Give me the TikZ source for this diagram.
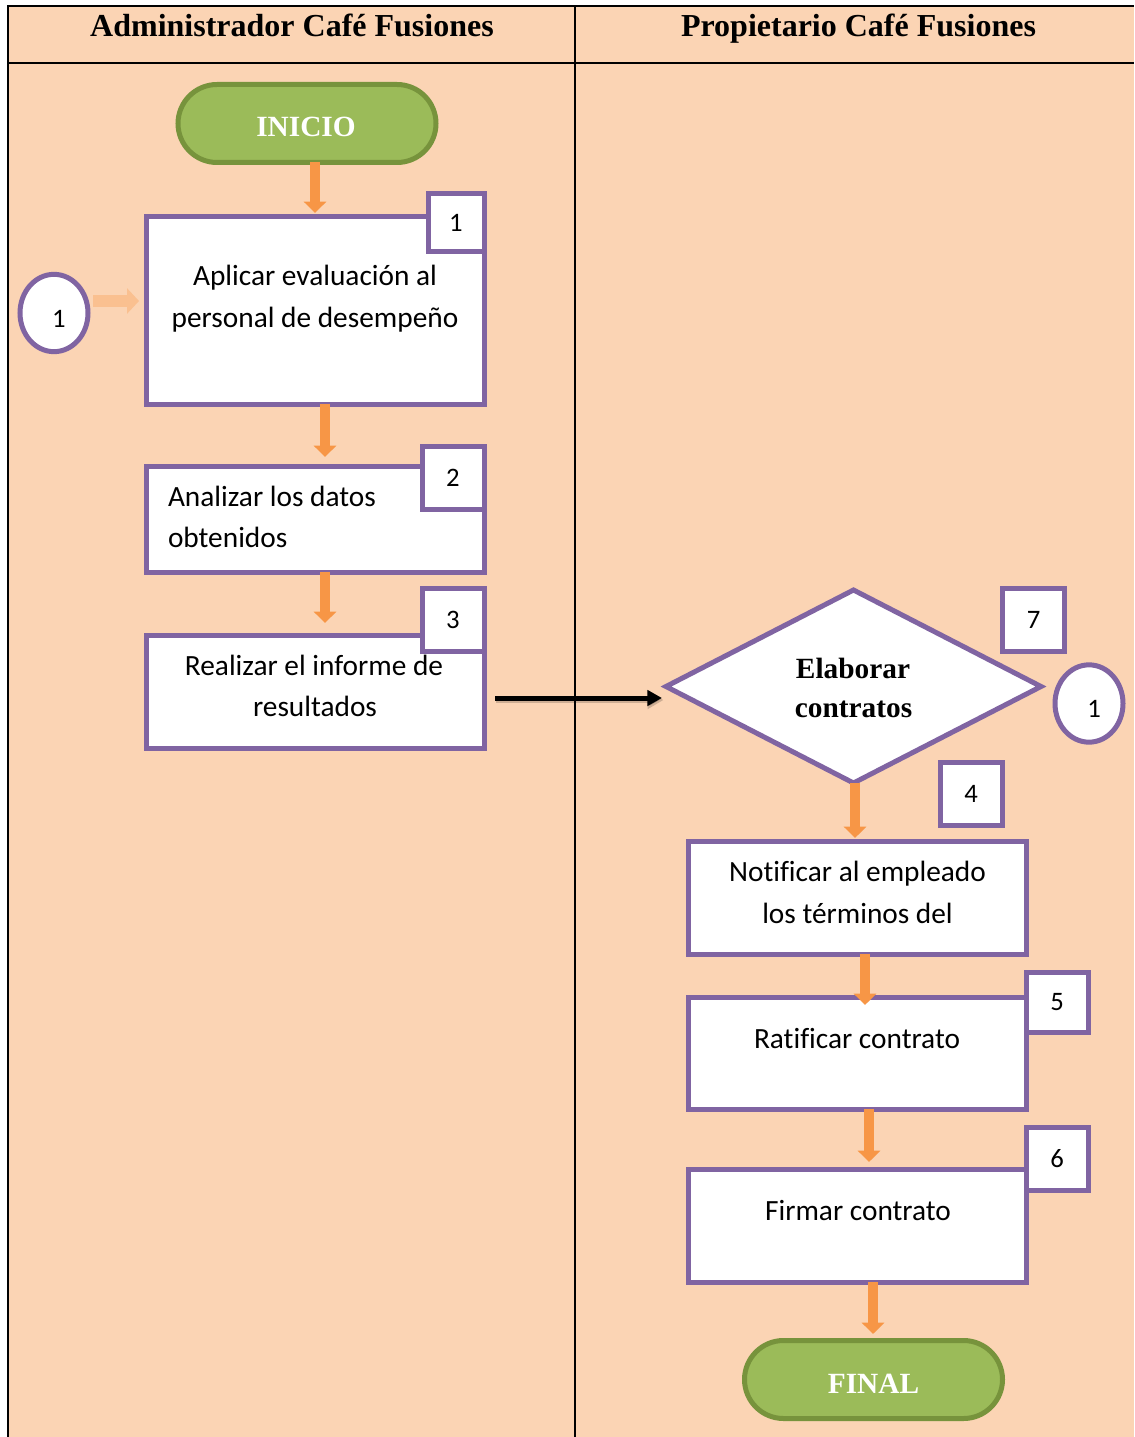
\documentclass[tikz,border=0pt]{standalone}
\usepackage{fontspec}
\setmainfont{Liberation Serif}
\newfontfamily\bodyfont[Ligatures=NoCommon]{Carlito}
\usetikzlibrary{arrows.meta,shapes.geometric,calc}
\definecolor{peach}{HTML}{FBD4B4}
\definecolor{lanepurple}{HTML}{8064A2}
\definecolor{flowor}{HTML}{F79646}
\definecolor{softor}{HTML}{FAC090}
\definecolor{termfill}{HTML}{9BBB59}
\definecolor{termline}{HTML}{77933C}

\begin{document}
\begin{tikzpicture}[x=0.75pt,y=-0.75pt,
  every node/.style={inner sep=0pt, outer sep=0pt},
  box/.style={draw=lanepurple, line width=3.75pt, fill=white, rectangle, minimum width=253.5pt},
  numbox/.style={draw=lanepurple, line width=3.75pt, fill=white, rectangle,
    minimum width=46.5pt, minimum height=47.25pt, font=\bodyfont\fontsize{20}{24}\selectfont},
  conn/.style={draw=lanepurple, line width=3.75pt, fill=white, ellipse,
    minimum width=51pt, minimum height=58pt},
  term/.style={draw=termline, line width=3.75pt, fill=termfill, rectangle,
    rounded corners=29.25pt, minimum width=193.5pt, minimum height=58.5pt},
  termtext/.style={text=white, font=\bfseries\fontsize{22}{26}\selectfont, anchor=base},
  bodytext/.style={font=\bodyfont\fontsize{22}{26}\selectfont, anchor=base},
  digit/.style={font=\bodyfont\fontsize{20}{24}\selectfont, anchor=base},
  dectext/.style={font=\bfseries\fontsize{22}{26}\selectfont, anchor=base},
  head/.style={font=\bfseries\fontsize{24}{28}\selectfont, anchor=base},
  flow/.style={draw=flowor, line width=7.5pt, -{Triangle[width=16.5pt,length=8.5pt]}},
  link/.style={draw=black, line width=3.75pt, -{Triangle[width=11.5pt,length=11pt]}},
  linkshadow/.style={draw=black, opacity=0.18, line width=4.5pt, -{Triangle[width=13pt,length=12pt]}},
  backarrow/.style={draw=softor, line width=9pt, -{Triangle[width=18.75pt,length=9pt]}},
  lanerule/.style={draw=black, line width=1.5pt}
]
\useasboundingbox (0,0) rectangle (1134,1437);

% swimlane table
\fill[peach] (8,6) rectangle (1134,1437);
\draw[lanerule] (8,1437) -- (8,6) -- (1134,6);
\draw[lanerule] (8,63) -- (1134,63);
\draw[lanerule] (575,6) -- (575,1437);
\node[head] (hadm) at (292,37) {Administrador Café Fusiones};
\node[head] (hprop) at (858.5,37) {Propietario Café Fusiones};

% left lane
\node[term] (ini) at (307,123.5) {};
\node[termtext] (initxt) at (306,137) {INICIO};

\node[box, minimum height=140.25pt] (b1) at (315,310.5) {};
\node[bodytext] (b1a) at (315,286) {Aplicar evaluación al};
\node[bodytext] (b1b) at (315,328) {personal de desempeño};
\node[numbox, minimum width=42pt, minimum height=43.5pt] (n1) at (456,223) {1};

\node[conn] (c1) at (54,313) {};
\node[digit] (c1t) at (59,327) {1};

\node[box, minimum height=79.5pt] (b2) at (315,519) {};
\node[bodytext, anchor=base west] (b2a) at (168,506) {Analizar los datos};
\node[bodytext, anchor=base west] (b2b) at (168,547) {obtenidos};
\node[numbox] (n2) at (453,477.5) {2};

\node[box, minimum height=84.75pt] (b3) at (315,691.5) {};
\node[bodytext] (b3a) at (314,675) {Realizar el informe de};
\node[bodytext] (b3b) at (315,716) {resultados};
\node[numbox] (n3) at (453,619.5) {3};

% right lane
\node[draw=lanepurple, line width=3.75pt, fill=white, diamond,
      minimum width=281.25pt, minimum height=144.75pt] (dec) at (853.5,686.5) {};
\node[dectext] (deca) at (853,678) {Elaborar};
\node[dectext] (decb) at (853.5,717) {contratos};
\node[numbox] (n7) at (1033.5,619.5) {7};
\node[conn] (c2) at (1089,703.5) {};
\node[digit] (c2t) at (1094,717) {1};

\node[box, minimum height=84.75pt] (bnot) at (857.5,897.5) {};
\node[bodytext] (bnota) at (857.5,881) {Notificar al empleado};
\node[bodytext] (bnotb) at (857.5,923) {los términos del};
\node[numbox] (n4) at (971,794) {4};

\node[box, minimum height=84pt] (brat) at (857.5,1053) {};
\node[bodytext] (brata) at (857,1048) {Ratificar contrato};
\node[numbox, minimum height=45pt] (n5) at (1057,1002) {5};

\node[box, minimum height=84.75pt] (bfir) at (857.5,1225.5) {};
\node[bodytext] (bfira) at (858,1220) {Firmar contrato};
\node[numbox] (n6) at (1057,1159) {6};

\node[term] (fin) at (873.5,1379.5) {};
\node[termtext] (fintxt) at (873.5,1393) {FINAL};

% connectors
\draw[flow] ($(ini.south)+(8,0)$) -- ($(b1.north)+(0,-4)$);
\draw[flow] ($(b1.south)+(10,0)$) -- ($(b2.north)+(10,-9)$);
\draw[flow] ($(b2.south)+(10,0)$) -- ($(b3.north)+(10,-12)$);
\draw[backarrow] ($(c1.east)+(5,-12)$) -- ($(b1.west)+(-7,-9.5)$);

\coordinate (arrin) at ($(dec.west)+(-4,11.5)$);
\draw[linkshadow] ($(b3.east)+(12,8.5)$) -- ($(arrin)+(1.5,2)$);
\draw[link] ($(b3.east)+(11,6.5)$) -- (arrin);

\draw[flow] ($(dec.south)+(1.5,0)$) -- ($(bnot.north)+(-2.5,-3)$);
\draw[flow] ($(bnot.south)+(7.5,0)$) -- ($(brat.north)+(7.5,8)$);
\draw[flow] ($(brat.south)+(11.5,0)$) -- ($(bfir.north)+(11.5,-7)$);
\draw[flow] ($(bfir.south)+(15.5,0)$) -- ($(fin.north)+(-0.5,-6.5)$);
\end{tikzpicture}
\end{document}
